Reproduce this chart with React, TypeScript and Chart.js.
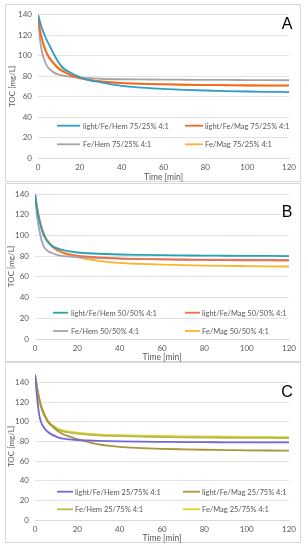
import React, { useEffect, useRef } from "react";
import { Chart, registerables } from "chart.js";

Chart.register(...registerables);

const timeMin = [0, 1, 2, 3, 4, 5, 6, 8, 10, 12, 15, 20, 25, 30, 40, 50, 60, 70, 80, 90, 100, 110, 120];

// Panel A (75/25%)
const labelsA = ["light/Fe/Hem 75/25% 4:1", "light/Fe/Mag 75/25% 4:1", "Fe/Hem 75/25% 4:1", "Fe/Mag 75/25% 4:1"];
const lightFeHemA = [140, 133, 126, 121, 116, 112, 108, 100, 93, 88, 84, 79, 76, 74, 70.5, 68.8, 67.5, 66.7, 66, 65.4, 65, 64.7, 64.5];
const lightFeMagA = [140, 124, 115, 108, 103, 99, 96, 91, 87, 84.5, 81.5, 78, 76, 74.8, 73.3, 72.5, 72, 71.6, 71.3, 71.1, 70.9, 70.8, 70.7];
const feHemA = [140, 115, 103, 96, 91, 88, 86, 83, 81.5, 80.5, 79.5, 78.5, 78, 77.5, 77, 76.8, 76.6, 76.5, 76.4, 76.3, 76.2, 76.1, 76];
const feMagA = [140, 125, 116, 110, 104, 100, 97, 92, 88, 85.5, 82, 78, 76, 75, 73.5, 72.7, 72.2, 71.8, 71.5, 71.3, 71.1, 71, 71];

// Panel B (50/50%)
const labelsB = ["light/Fe/Hem 50/50% 4:1", "light/Fe/Mag 50/50% 4:1", "Fe/Hem 50/50% 4:1", "Fe/Mag 50/50% 4:1"];
const lightFeHemB = [140, 125, 115, 107, 101, 97, 94, 90, 88, 86.5, 85, 83.5, 82.8, 82.3, 81.6, 81.2, 80.9, 80.7, 80.5, 80.4, 80.3, 80.2, 80.1];
const lightFeMagB = [140, 126, 116, 108, 102, 97, 94, 89.5, 86.5, 84.5, 82.5, 80.5, 79.5, 78.8, 77.8, 77.2, 76.8, 76.5, 76.3, 76.1, 76, 75.9, 75.8];
const feHemB = [140, 118, 106, 96, 90, 87, 85, 83, 81.5, 80.5, 79.7, 79, 78.5, 78, 77.5, 77.2, 77, 76.8, 76.7, 76.6, 76.5, 76.5, 76.4];
const feMagB = [140, 127, 117, 109, 103, 98, 95, 90, 86.5, 84, 81.5, 79, 77, 75.5, 73.5, 72.5, 71.8, 71.3, 70.9, 70.6, 70.4, 70.2, 70];

// Panel C (25/75%)
const labelsC = ["light/Fe/Hem 25/75% 4:1", "light/Fe/Mag 25/75% 4:1", "Fe/Hem 25/75% 4:1", "Fe/Mag 25/75% 4:1"];
const lightFeHemC = [148, 125, 107, 99, 95, 92, 90, 87, 85, 83.5, 82.5, 81.5, 81, 80.6, 80.1, 79.8, 79.6, 79.4, 79.3, 79.2, 79.1, 79, 79];
const lightFeMagC = [148, 135, 124, 116, 110, 105, 101, 96, 92, 89, 86, 82.5, 79.5, 77, 74.5, 73.3, 72.5, 72, 71.6, 71.3, 71, 70.8, 70.7];
const feHemC = [148, 134, 122, 114, 108, 104, 100, 96, 93, 91, 89.5, 88, 87, 86.3, 85.5, 85, 84.5, 84.2, 84, 83.8, 83.7, 83.6, 83.5];
const feMagC = [148, 135, 123, 115, 109, 105, 101, 97, 94, 92, 90.5, 89, 88, 87.3, 86.5, 86, 85.6, 85.3, 85.1, 84.9, 84.7, 84.6, 84.5];

const yTicks = [0, 20, 40, 60, 80, 100, 120, 140];
const xTicks = [0, 20, 40, 60, 80, 100, 120];

const FONT = "Lato, 'Open Sans', sans-serif";

const overlayPlugin = {
  id: "overlay",
  afterDraw(chart: any, _args: any, opts: any) {
    const ctx = chart.ctx;
    ctx.save();
    // legend
    const ds = chart.data.datasets;
    ctx.font = `${opts.legendSize}px ${FONT}`;
    ctx.textBaseline = "middle";
    ctx.textAlign = "left";
    ds.forEach((d: any, i: number) => {
      const row = Math.floor(i / 2);
      const col = opts.cols[i % 2];
      const y = opts.rows[row];
      ctx.strokeStyle = d.borderColor;
      ctx.lineWidth = 1.8;
      ctx.beginPath();
      ctx.moveTo(col[0], y);
      ctx.lineTo(col[1], y);
      ctx.stroke();
      ctx.fillStyle = "#595959";
      ctx.fillText(d.label, col[2], y + 0.5);
    });
    // panel label
    ctx.font = `16px 'Liberation Sans', Arial, sans-serif`;
    ctx.fillStyle = "#000";
    ctx.textAlign = "center";
    ctx.fillText(opts.label, opts.labelX, opts.labelY);
    ctx.restore();
  },
};

type PanelProps = {
  left: number;
  top: number;
  width: number;
  height: number;
  yMax: number;
  yAxisWidth: number;
  xAxisHeight: number;
  padTop: number;
  padRight: number;
  yTitlePad: number;
  series: number[][];
  labels: string[];
  colors: string[];
  overlay: any;
};

function Panel(p: PanelProps) {
  const ref = useRef<HTMLCanvasElement>(null);
  useEffect(() => {
    const chart = new Chart(ref.current as HTMLCanvasElement, {
      type: "line",
      data: {
        datasets: p.series.map((s, i) => ({
          label: p.labels[i],
          data: s.map((v, j) => ({ x: timeMin[j], y: v })),
          borderColor: p.colors[i],
          backgroundColor: p.colors[i],
          borderWidth: 1.8,
          pointRadius: 0,
          cubicInterpolationMode: "monotone" as const,
          fill: false,
        })),
      },
      options: {
        responsive: false,
        animation: false,
        devicePixelRatio: 1,
        layout: { padding: { left: 0, right: p.padRight, top: p.padTop, bottom: 0 } },
        plugins: {
          legend: { display: false },
          tooltip: { enabled: false },
          overlay: p.overlay,
        } as any,
        scales: {
          x: {
            type: "linear",
            min: 0,
            max: 120,
            afterBuildTicks: (scale: any) => {
              scale.ticks = xTicks.map((v) => ({ value: v }));
            },
            afterFit: (scale: any) => {
              scale.height = p.xAxisHeight;
            },
            grid: { display: false, drawTicks: false },
            border: { display: true, color: "#d9d9d9", width: 1 },
            ticks: { padding: 5, color: "#595959", font: { family: FONT, size: 8 }, maxRotation: 0 },
            title: {
              display: true,
              text: "Time [min]",
              color: "#595959",
              font: { family: FONT, size: 8.5 },
              padding: { top: 0, bottom: 0 },
            },
          },
          y: {
            type: "linear",
            min: 0,
            max: p.yMax,
            afterBuildTicks: (scale: any) => {
              scale.ticks = yTicks.map((v) => ({ value: v }));
            },
            afterFit: (scale: any) => {
              scale.width = p.yAxisWidth;
            },
            grid: { color: "#e3e3e3", drawTicks: false, lineWidth: 1 },
            border: { display: false },
            ticks: { padding: 6, color: "#595959", font: { family: FONT, size: 8 } },
            title: {
              display: true,
              text: "TOC [mg/L]",
              color: "#595959",
              font: { family: FONT, size: 8 },
              padding: { top: p.yTitlePad, bottom: 0 },
            },
          },
        },
      },
      plugins: [overlayPlugin],
    });
    return () => chart.destroy();
  }, []);
  return (
    <>
      <div
        style={{
          position: "absolute",
          left: p.left,
          top: p.top,
          width: p.width,
          height: p.height,
          border: "1px solid #d9d9d9",
          boxSizing: "border-box",
        }}
      />
      <canvas
        ref={ref}
        width={p.width}
        height={p.height}
        style={{ position: "absolute", left: p.left, top: p.top, width: p.width, height: p.height }}
      />
    </>
  );
}

export default function App() {
  return (
    <div style={{ position: "absolute", left: 0, top: 0, width: 307, height: 550, background: "#fff" }}>
      <Panel
        left={5}
        top={4}
        width={296}
        height={178}
        yMax={140}
        yAxisWidth={33}
        xAxisHeight={24}
        padTop={10}
        padRight={9}
        yTitlePad={3}
        series={[lightFeHemA, lightFeMagA, feHemA, feMagA]}
        labels={labelsA}
        colors={["#2E9DCB", "#F46524", "#A5A5A5", "#FBB034"]}
        overlay={{
          legendSize: 7.5,
          rows: [121.7, 140.3],
          cols: [
            [52, 75, 78],
            [180, 198, 200],
          ],
          label: "A",
          labelX: 282,
          labelY: 21,
        }}
      />
      <Panel
        left={5}
        top={183}
        width={296}
        height={179}
        yMax={140}
        yAxisWidth={30}
        xAxisHeight={23}
        padTop={11}
        padRight={9}
        yTitlePad={2}
        series={[lightFeHemB, lightFeMagB, feHemB, feMagB]}
        labels={labelsB}
        colors={["#27A2B3", "#EE6F4B", "#A3A3B3", "#F9B52E"]}
        overlay={{
          legendSize: 7.5,
          rows: [129.7, 148],
          cols: [
            [48, 63, 66],
            [180, 195, 197],
          ],
          label: "B",
          labelX: 282,
          labelY: 30,
        }}
      />
      <Panel
        left={5}
        top={362}
        width={296}
        height={181}
        yMax={150}
        yAxisWidth={30}
        xAxisHeight={23}
        padTop={10}
        padRight={9}
        yTitlePad={2}
        series={[lightFeHemC, lightFeMagC, feHemC, feMagC]}
        labels={labelsC}
        colors={["#7468D6", "#A8963A", "#B8B84E", "#D8D82C"]}
        overlay={{
          legendSize: 7.5,
          rows: [129.7, 147.3],
          cols: [
            [52, 68, 70],
            [178, 195, 197],
          ],
          label: "C",
          labelX: 282,
          labelY: 31,
        }}
      />
    </div>
  );
}
